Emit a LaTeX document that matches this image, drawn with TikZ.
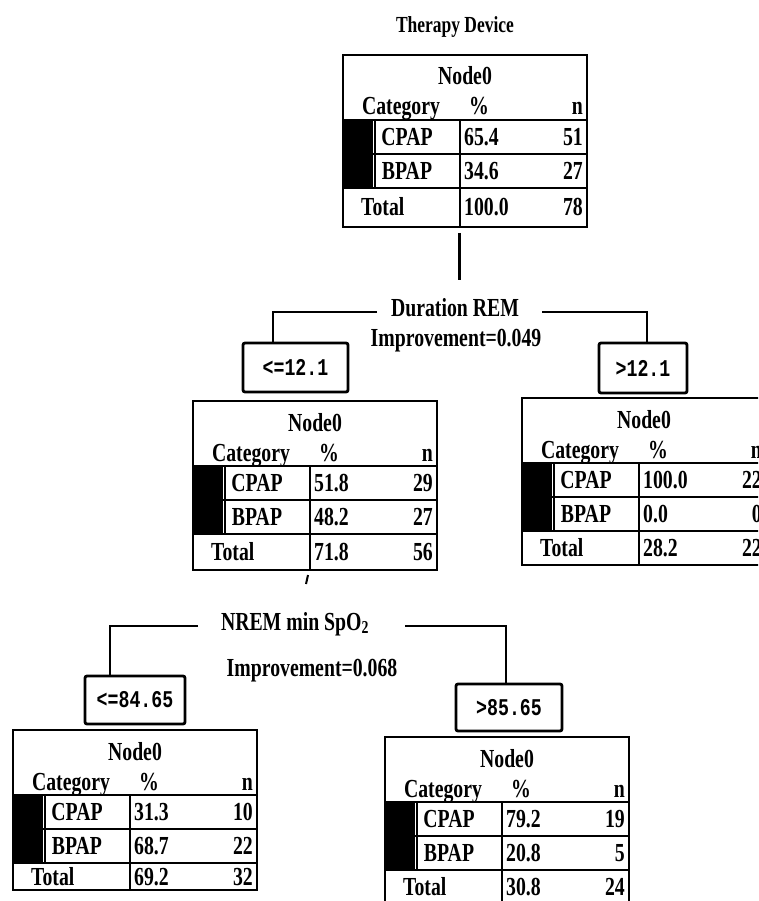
\documentclass[tikz,border=0pt]{standalone}
\usepackage{fontspec}
\setmainfont{Liberation Serif}[FakeStretch=0.76]
\newfontfamily\monocond{Liberation Mono}[FakeStretch=0.76]
\tikzset{
  tt/.style={font=\fontsize{26}{28}\selectfont\bfseries, inner sep=0pt},
  lbl/.style={font=\fontsize{26}{28}\selectfont\bfseries, inner sep=0pt},
  ttl/.style={font=\fontsize{23}{25}\selectfont\bfseries, inner sep=0pt},
  frame/.style={draw, line width=2.8pt},
  cell/.style={draw, line width=2.2pt},
  cond/.style={draw, line width=2.8pt, rounded corners=2pt, inner sep=0pt,
    font=\monocond\bfseries\fontsize{24}{26}\selectfont},
  link/.style={draw, line width=2.6pt},
}
\def\parsevals#1,#2,#3,#4,#5,#6\relax{\def\va{#1}\def\vb{#2}\def\vc{#3}\def\vd{#4}\def\ve{#5}\def\vf{#6}}
\newcommand\tbl[5]{%
  \parsevals#5\relax
  \pgfmathsetmacro\tL{#2}\pgfmathsetmacro\tT{#3}\pgfmathsetmacro\tB{#4}%
  \pgfmathsetmacro\tR{\tL+244}\pgfmathsetmacro\tD{\tL+117}\pgfmathsetmacro\tK{\tL+30}%
  \pgfmathsetmacro\tHa{\tT+65}\pgfmathsetmacro\tHb{\tT+99}\pgfmathsetmacro\tHc{\tT+133}%
  \pgfmathsetmacro\tTot{(\tHc+\tB)/2+8.5}%
  \fill[white] (\tL,\tT) rectangle (\tR,\tB);
  \fill[black] (\tL,\tHa) rectangle (\tK,\tHc);
  \draw[cell] ({\tK+2},\tHa) rectangle (\tD,\tHb);
  \draw[cell] ({\tK+2},\tHb) rectangle (\tD,\tHc);
  \draw[cell] (\tL,\tHa) -- (\tR,\tHa);
  \draw[cell] (\tK,\tHb) -- (\tR,\tHb);
  \draw[cell] (\tL,\tHc) -- (\tR,\tHc);
  \draw[cell] (\tD,\tHa) -- (\tD,\tB);
  \draw[frame] (\tL,\tT) rectangle (\tR,\tB);
  \node[tt, anchor=base] (#1-h) at ({\tL+122},{\tT+30}) {Node0};
  \node[tt, anchor=base] (#1-cat) at ({\tL+58},{\tT+60}) {Category};
  \node[tt, anchor=base] (#1-pc) at ({\tL+136},{\tT+60}) {\%};
  \node[tt, anchor=base east] (#1-n) at ({\tL+240},{\tT+60}) {n};
  \node[tt, anchor=base] (#1-c1) at ({\tL+64},{\tT+90.5}) {CPAP};
  \node[tt, anchor=base west] (#1-c1p) at ({\tL+121},{\tT+90.5}) {\va};
  \node[tt, anchor=base east] (#1-c1n) at ({\tL+240},{\tT+90.5}) {\vb};
  \node[tt, anchor=base] (#1-c2) at ({\tL+64},{\tT+124.5}) {BPAP};
  \node[tt, anchor=base west] (#1-c2p) at ({\tL+121},{\tT+124.5}) {\vc};
  \node[tt, anchor=base east] (#1-c2n) at ({\tL+240},{\tT+124.5}) {\vd};
  \node[tt, anchor=base west] (#1-t) at ({\tL+18},\tTot) {Total};
  \node[tt, anchor=base west] (#1-tp) at ({\tL+121},\tTot) {\ve};
  \node[tt, anchor=base east] (#1-tn) at ({\tL+240},\tTot) {\vf};
}
\begin{document}
\begin{tikzpicture}[x=1pt, y=-1pt]
  \clip (0,0) rectangle (758,901);
  \fill[white] (0,0) rectangle (758,901);

  \node[ttl] (title) at (455,27) {Therapy Device};

  \tbl{t0}{343}{55}{227}{65.4,51,34.6,27,100.0,78}
  \tbl{t1}{193}{401}{570}{51.8,29,48.2,27,71.8,56}
  \tbl{t2}{522}{398}{565}{100.0,22,0.0,0,28.2,22}
  \tbl{t3}{13}{730}{890}{31.3,10,68.7,22,69.2,32}
  \tbl{t4}{385}{737}{903}{79.2,19,20.8,5,30.8,24}

  % root connector
  \coordinate (r0s) at (459,233);
  \coordinate (r0e) at (459,280);
  \draw[link, line width=3pt] (r0s) -- (r0e);

  % first split
  \node[lbl] (dur) at (455,308) {Duration REM};
  \node[lbl] (imp1) at (456,341) {Improvement=0.049};
  \node[cond, minimum width=105pt, minimum height=49pt] (b1) at (295.5,367.5) {<=12.1};
  \node[cond, minimum width=88pt, minimum height=50pt] (b2) at (643,368) {>12.1};
  \coordinate (dl) at (377,312);
  \coordinate (dr) at (542,312);
  \draw[link] (dl) -| ([xshift=-22.5pt]b1.north);
  \draw[link] (dr) -| ([xshift=4pt]b2.north);

  % stub under left table
  \coordinate (s1) at (308,575);
  \coordinate (s2) at (306,584);
  \draw[line width=2pt] (s1) -- (s2);

  % second split
  \node[lbl] (nrem) at (295,624) {NREM min SpO\textsubscript{2}};
  \node[lbl] (imp2) at (312,671) {Improvement=0.068};
  \node[cond, minimum width=100pt, minimum height=48pt] (b3) at (135,700) {<=84.65};
  \node[cond, minimum width=106pt, minimum height=47pt] (b4) at (509,707.5) {>85.65};
  \coordinate (nl) at (198,626);
  \coordinate (nr) at (405,626);
  \draw[link] (nl) -| ([xshift=-25pt]b3.north);
  \draw[link] (nr) -| ([xshift=-3pt]b4.north);
\end{tikzpicture}
\end{document}
